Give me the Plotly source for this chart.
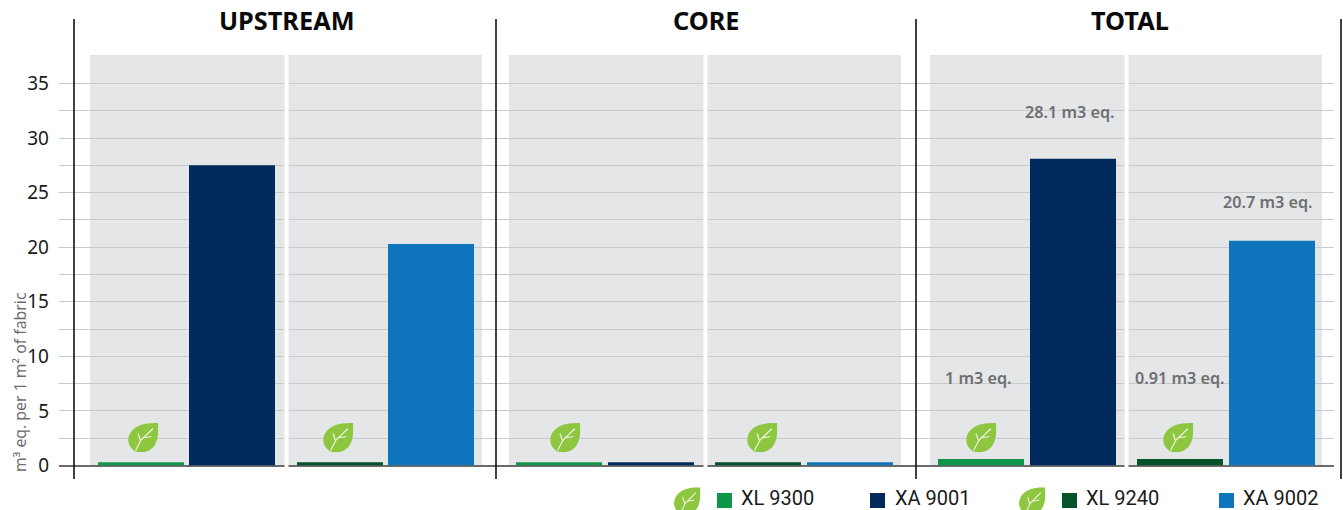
import base64
import plotly.graph_objects as go

W, H = 1343, 510
FONT = "Noto Sans"

# ---- data ----
group_titles = ["UPSTREAM", "CORE", "TOTAL"]
series_a = ["XL 9300", "XA 9001"]
series_b = ["XL 9240", "XA 9002"]
upstream_a = [0.3, 27.5]
upstream_b = [0.3, 20.3]
core_a = [0.3, 0.3]
core_b = [0.3, 0.3]
total_a = [0.6, 28.1]
total_b = [0.6, 20.6]
tick_values = [0, 2.5, 5, 7.5, 10, 12.5, 15, 17.5, 20, 22.5, 25, 27.5, 30, 32.5, 35]
tick_labels = ["0", "", "5", "", "10", "", "15", "", "20", "", "25", "", "30", "", "35"]
value_labels = ["1 m3 eq.", "28.1 m3 eq.", "0.91 m3 eq.", "20.7 m3 eq."]
y_title = "m³ eq. per 1 m² of fabric"

# ---- styles ----
colors = {"XL 9300": "#0F9648", "XA 9001": "#002A5C", "XL 9240": "#05532A", "XA 9002": "#0F75BC"}
PANEL = "#E5E6E8"
GRID = "#C9CACC"
BASE = "#6B6B6B"
LABEL = "#6D6E70"
LEAF = "#8DC63F"

# ---- layout constants (pixels of the 1343x510 page) ----
Y0, Y_TOP = 465.5, 55
UNIT = 10.914  # px per unit
y_range = [0, (Y0 - Y_TOP) / UNIT]
y_domain = [(H - Y0) / H, (H - Y_TOP) / H]
BAR_PX = 86
# panel left, panel right, centre of 1st bar, bar spacing, leaf centre
panels = [
    (90, 285, 141, 91, 143, series_a, upstream_a),
    (288, 482, 340, 91, 338, series_b, upstream_b),
    (509, 704, 559, 92, 565, series_a, core_a),
    (707, 901, 758, 92, 762, series_b, core_b),
    (930, 1125, 981, 92, 981, series_a, total_a),
    (1128, 1322, 1180, 92, 1178, series_b, total_b),
]
leaf_svg = (
    '<svg xmlns="http://www.w3.org/2000/svg" viewBox="0 0 32 30">'
    f'<path d="M31 0.5C20 0 6 2 2 13C-0.5 21 4 26 8.5 29C14 31 25 30 29 20C32 13 31 6 31 0.5Z" fill="{LEAF}"/>'
    '<path d="M8.5 28L14 17.5L26 6M13.5 18L11 11M15.5 15.5L24.5 14" fill="none" stroke="#F1F5E6" stroke-width="1.2"/>'
    "</svg>"
)
leaf_uri = "data:image/svg+xml;base64," + base64.b64encode(leaf_svg.encode()).decode()

px = lambda v: v / W
py = lambda v: (H - v) / H

fig = go.Figure()
layout = dict(
    width=W, height=H,
    margin=dict(l=0, r=0, t=0, b=0, autoexpand=False),
    paper_bgcolor="white", plot_bgcolor="rgba(0,0,0,0)",
    showlegend=False, barmode="overlay",
    font=dict(family=FONT, color="#1A1A1A"),
    xaxis=dict(domain=[px(59), px(1334)], range=[0, 1], visible=False, fixedrange=True),
    yaxis=dict(
        domain=y_domain, range=y_range, tickmode="array",
        tickvals=tick_values, ticktext=tick_labels,
        showgrid=True, gridcolor=GRID, gridwidth=1.2,
        zeroline=True, zerolinecolor=BASE, zerolinewidth=2,
        showline=False, ticks="", ticklabelstandoff=9,
        tickfont=dict(size=19, family=FONT, color="#1A1A1A"), fixedrange=True,
    ),
    yaxis2=dict(domain=y_domain, range=y_range, visible=False, fixedrange=True, anchor="x2"),
)
# base trace, so that the shared y axis and its gridlines are drawn
fig.add_trace(go.Scatter(x=[0, 1], y=[0, 0], mode="lines", line=dict(width=0),
                         hoverinfo="skip", xaxis="x", yaxis="y"))

shapes, annotations, images = [], [], []

for i, (left, right, c0, step, leaf_c, names, vals) in enumerate(panels):
    n = i + 2
    x0 = -(c0 - left) / step
    x1 = (right - c0) / step
    layout[f"xaxis{n}"] = dict(
        domain=[px(left), px(right)], range=[x0, x1], type="category",
        categoryorder="array", categoryarray=names, visible=False,
        anchor="y2", fixedrange=True,
    )
    fig.add_trace(go.Bar(
        x=names, y=vals, width=BAR_PX / step,
        marker=dict(color=[colors[s] for s in names], line=dict(width=0)),
        xaxis=f"x{n}", yaxis="y2", hoverinfo="x+y",
    ))
    shapes.append(dict(type="rect", xref="paper", yref="paper", layer="below",
                       x0=px(left), x1=px(right), y0=py(Y0), y1=py(Y_TOP),
                       fillcolor=PANEL, line=dict(width=0)))
    images.append(dict(source=leaf_uri, xref="paper", yref="paper",
                       x=px(leaf_c), y=py(437.5), sizex=32 / W, sizey=30 / H,
                       xanchor="center", yanchor="middle", sizing="stretch", layer="above"))

# white separators inside each group (cut gridlines and baseline)
for a, b in [(284.5, 288.5), (703.5, 707.5), (1124.5, 1128.5)]:
    shapes.append(dict(type="rect", xref="paper", yref="paper", layer="above",
                       x0=px(a), x1=px(b), y0=py(467.5), y1=py(Y_TOP),
                       fillcolor="white", line=dict(width=0)))
# black group dividers
for x in [74, 496, 916, 1341]:
    shapes.append(dict(type="line", xref="paper", yref="paper", layer="above",
                       x0=px(x), x1=px(x), y0=py(479), y1=py(19),
                       line=dict(color="#111111", width=1.6)))

# group titles
for t, cx in zip(group_titles, [287, 706, 1130]):
    annotations.append(dict(text=f"<b>{t}</b>", xref="paper", yref="paper", x=px(cx), y=py(20.5),
                            showarrow=False, xanchor="center", yanchor="middle",
                            font=dict(size=25.3, family=FONT, color="#0A0A0A")))
# value labels
for t, cx, cy in zip(value_labels, [978, 1069.5, 1180, 1267.5], [378, 112, 378, 202]):
    annotations.append(dict(text=t, xref="paper", yref="paper", x=px(cx), y=py(cy),
                            showarrow=False, xanchor="center", yanchor="middle",
                            font=dict(size=16.2, family=FONT, color=LABEL, weight=600)))
# y title
annotations.append(dict(text=y_title, xref="paper", yref="paper", x=px(20), y=py(382),
                        showarrow=False, textangle=-90, xanchor="center", yanchor="middle",
                        font=dict(size=15.8, family=FONT, color=LABEL)))
# legend
legend_items = ["XL 9300", "XA 9001", "XL 9240", "XA 9002"]
for name, sx, tx in zip(legend_items, [717, 870, 1062, 1219], [739, 893, 1084, 1241]):
    shapes.append(dict(type="rect", xref="paper", yref="paper", layer="above",
                       x0=px(sx), x1=px(sx + 15), y0=py(508), y1=py(493),
                       fillcolor=colors[name], line=dict(width=0)))
    annotations.append(dict(text=name, xref="paper", yref="paper", x=px(tx), y=py(498.2),
                            showarrow=False, xanchor="left", yanchor="middle",
                            font=dict(size=20, family="Roboto", color="#1A1A1A")))
for cx in [687, 1032]:
    images.append(dict(source=leaf_uri, xref="paper", yref="paper",
                       x=px(cx), y=py(487), sizex=28 / W, sizey=28 / H,
                       xanchor="center", yanchor="top", sizing="stretch", layer="above"))

layout["shapes"] = shapes
layout["annotations"] = annotations
layout["images"] = images
fig.update_layout(**layout)
fig.write_html(
    "out.html",
    config={"displayModeBar": False},
    post_script="document.body.style.margin='0';document.body.style.overflow='hidden';",
)
